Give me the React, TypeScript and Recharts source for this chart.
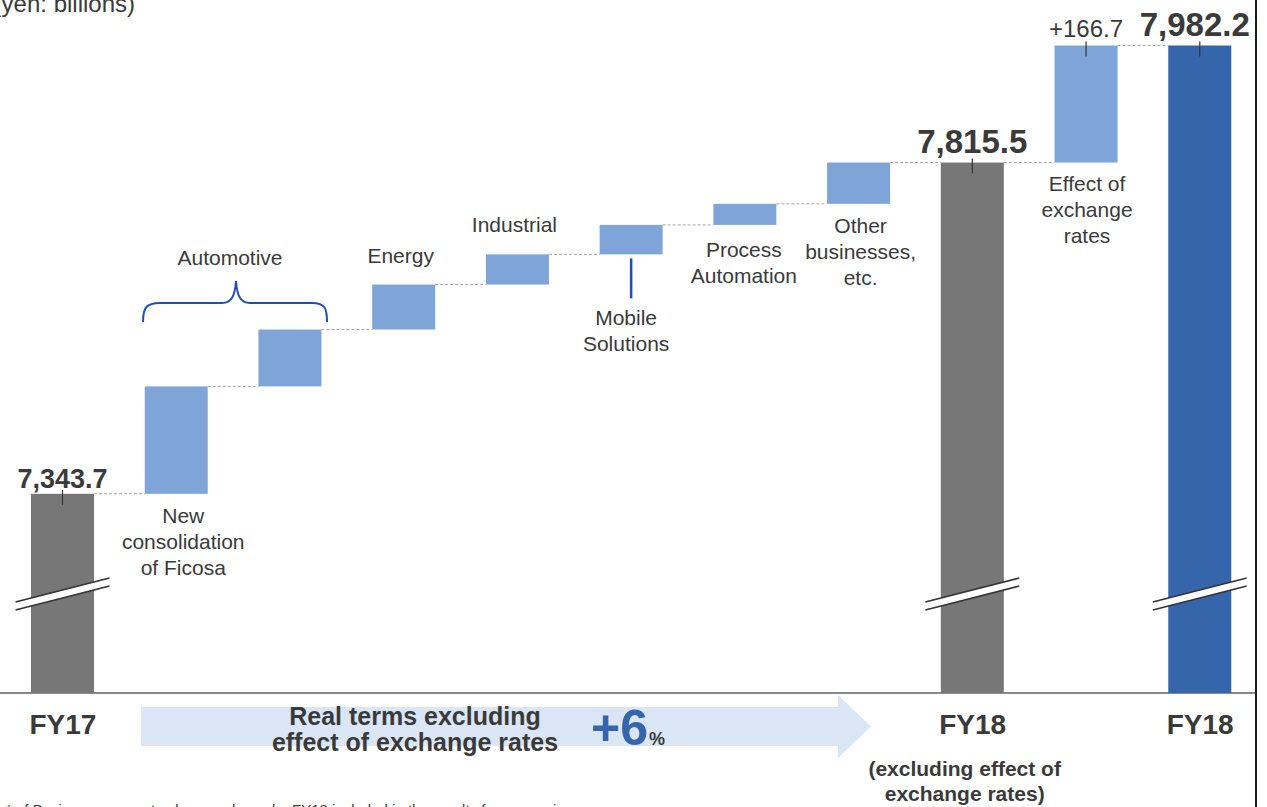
import React from "react";
import { BarChart, Bar, XAxis, YAxis, Customized } from "recharts";

// yen billions
const categories = [
  "FY17",
  "New consolidation of Ficosa",
  "Automotive",
  "Energy",
  "Industrial",
  "Mobile Solutions",
  "Process Automation",
  "Other businesses, etc.",
  "FY18 (excluding effect of exchange rates)",
  "Effect of exchange rates",
  "FY18",
];
const kinds = ["total", "step", "step", "step", "step", "step", "step", "step", "total", "step", "final"];
const fy17Sales = 7343.7;
const segmentSteps = [153.0, 81.0, 64.0, 43.0, 42.0, 30.0, 58.8];
const fy18SalesExFx = 7815.5;
const fxEffect = 166.7;
const fy18Sales = 7982.2;

const tickLabels = ["FY17", "", "", "", "", "", "", "", "FY18", "", "FY18"];
const tickSubLabels = [[], [], [], [], [], [], [], [], ["(excluding effect of", "exchange rates)"], [], []];
const nameLines = [
  [],
  ["New", "consolidation", "of Ficosa"],
  [],
  ["Energy"],
  ["Industrial"],
  ["Mobile", "Solutions"],
  ["Process", "Automation"],
  ["Other", "businesses,", "etc."],
  [],
  ["Effect of", "exchange", "rates"],
  [],
];
const growthLabel = ["Real terms excluding", "effect of exchange rates"];
const growthPct = "+6";

// build floating [low, high] rows for the waterfall
const AXIS_MIN = 7060;
const AXIS_MAX = 8000;
const BREAK_AT = 7201;

const stepValues = [fy17Sales, ...segmentSteps, fy18SalesExFx, fxEffect, fy18Sales];
const rows = (() => {
  let run = 0;
  return categories.map((name, i) => {
    const v = stepValues[i];
    if (kinds[i] === "step") {
      const low = run;
      run += v;
      return { name, kind: kinds[i], value: v, low, high: run };
    }
    run = v;
    return { name, kind: kinds[i], value: v, low: AXIS_MIN, high: v };
  });
})();

const W = 1267;
const H = 807;
const MARGIN = { top: 33, right: 10, bottom: 0, left: 6 };
const AXIS_H = 114;
const BASE_Y = H - MARGIN.bottom - AXIS_H;
const PLOT_R = W - MARGIN.right;
const BAND = (W - MARGIN.left - MARGIN.right) / categories.length;
const BAR_W = 63;

const FONT = "'Liberation Sans', Arial, Helvetica, sans-serif";
const TEXT = "#3a3a3a";
const COLORS = { total: "#777777", step: "#7FA5D8", final: "#3566AC" };

// placement of the category names next to each bar
const namePlacement: Record<number, { side: "above" | "below"; gap: number; dx: number; pointer?: boolean }> = {
  1: { side: "below", gap: 29, dx: 7 },
  3: { side: "above", gap: 22, dx: -3 },
  4: { side: "above", gap: 22, dx: -3 },
  5: { side: "below", gap: 71, dx: -5, pointer: true },
  6: { side: "below", gap: 32, dx: -1 },
  7: { side: "below", gap: 29, dx: 2 },
  9: { side: "below", gap: 28, dx: 1 },
};
const valueLabelStyle: Record<number, { size: number; weight: number; gap: number; dx: number; signed?: boolean }> = {
  0: { size: 27, weight: 700, gap: 6, dx: 0 },
  8: { size: 33, weight: 700, gap: 10, dx: 0 },
  9: { size: 24, weight: 400, gap: 8, dx: 0, signed: true },
  10: { size: 33, weight: 700, gap: 9, dx: -5 },
};

const fmt = (v: number) =>
  v.toLocaleString("en-US", { minimumFractionDigits: 1, maximumFractionDigits: 1 });

const WaterfallBar = (props: any) => {
  const { x, y, width, height, index } = props;
  const row = rows[index];
  const cx = x + width / 2;
  const bottom = y + height;
  const isTotal = row.kind !== "step";
  const vs = valueLabelStyle[index];
  const np = namePlacement[index];
  const lines = nameLines[index];
  const next = rows[index + 1];

  let breakY = 0;
  if (isTotal) breakY = y + (height * (row.high - BREAK_AT)) / (row.high - row.low);

  return (
    <g>
      {next && (
        <line
          x1={x + width}
          x2={x + width + (BAND - width)}
          y1={y}
          y2={y}
          stroke="#a6a6a6"
          strokeWidth={1}
          strokeDasharray="3 2"
        />
      )}
      <rect x={x} y={y} width={width} height={height} fill={COLORS[row.kind as keyof typeof COLORS]} />
      {isTotal && (
        <g>
          <polygon
            points={`${cx - 47},${breakY + 8} ${cx + 47},${breakY - 16} ${cx + 47},${breakY - 8} ${cx - 47},${breakY + 16}`}
            fill="#ffffff"
          />
          <line x1={cx - 47} y1={breakY + 8} x2={cx + 47} y2={breakY - 16} stroke="#333" strokeWidth={1.6} />
          <line x1={cx - 47} y1={breakY + 16} x2={cx + 47} y2={breakY - 8} stroke="#333" strokeWidth={1.6} />
        </g>
      )}
      {vs && (
        <g>
          <line x1={cx} x2={cx} y1={y - 4} y2={y + 11} stroke="#333" strokeWidth={1.2} />
          <text
            x={cx + vs.dx}
            y={y - vs.gap}
            textAnchor="middle"
            fontSize={vs.size}
            fontWeight={vs.weight}
            fill={TEXT}
            fontFamily={FONT}
          >
            {(vs.signed ? "+" : "") + fmt(row.value)}
          </text>
        </g>
      )}
      {np && np.pointer && (
        <line x1={cx} x2={cx} y1={bottom + 4} y2={bottom + 44} stroke="#1f4fb5" strokeWidth={2.5} />
      )}
      {np &&
        lines.map((t, i) => {
          const ty =
            np.side === "below"
              ? bottom + np.gap + i * 26
              : y - np.gap - (lines.length - 1 - i) * 26;
          return (
            <text
              key={i}
              x={cx + np.dx}
              y={ty}
              textAnchor="middle"
              fontSize={21}
              fill={TEXT}
              fontFamily={FONT}
            >
              {t}
            </text>
          );
        })}
    </g>
  );
};

const CategoryTick = (props: any) => {
  const { x, y, index } = props;
  const label = tickLabels[index];
  if (!label) return null;
  const subs = tickSubLabels[index];
  return (
    <g>
      <text x={x} y={y + 41} textAnchor="middle" fontSize={28} fontWeight={700} fill={TEXT} fontFamily={FONT}>
        {label}
      </text>
      {subs.map((s, i) => (
        <text
          key={i}
          x={x - 8}
          y={y + 83 + i * 25}
          textAnchor="middle"
          fontSize={21}
          fontWeight={700}
          fill={TEXT}
          fontFamily={FONT}
        >
          {s}
        </text>
      ))}
    </g>
  );
};

// brace, growth arrow, unit note and frame
const Annotations = () => (
  <g fontFamily={FONT}>
    <line x1={0} x2={PLOT_R} y1={BASE_Y} y2={BASE_Y} stroke="#8a8a8a" strokeWidth={2} />
    <line x1={1256} x2={1256} y1={0} y2={H} stroke="#1a1a1a" strokeWidth={2} />
    <text x={135} y={12} textAnchor="end" fontSize={24} fill={TEXT}>
      (yen: billions)
    </text>
    <path
      d="M143,322 C143,308 146,303 160,303 L222,303 C232,303 235,295 236,281 C237,295 240,303 250,303 L312,303 C325,303 327,308 327,322"
      fill="none"
      stroke="#1f4fb5"
      strokeWidth={2}
    />
    <text x={230} y={265} textAnchor="middle" fontSize={21} fill={TEXT}>
      Automotive
    </text>
    <polygon points="141,707 838,707 838,695 871,726.5 838,758 838,746 141,746" fill="#DAE6F6" />
    <text x={415} y={725} textAnchor="middle" fontSize={25} fontWeight={700} fill={TEXT}>
      {growthLabel[0]}
    </text>
    <text x={415} y={751} textAnchor="middle" fontSize={25} fontWeight={700} fill={TEXT}>
      {growthLabel[1]}
    </text>
    <text x={591} y={745} fontSize={50} fontWeight={700} fill="#3566AC">
      {growthPct}
    </text>
    <text x={649} y={745} fontSize={18} fontWeight={700} fill={TEXT}>
      %
    </text>
    <text x={6} y={815} fontSize={15} fill={TEXT}>
      * of Business segment sales are shown by FY18 included in the results for comparison
    </text>
  </g>
);

export default function App() {
  return (
    <div style={{ position: "absolute", left: 0, top: 0, width: W, height: H, background: "#fff", overflow: "hidden" }}>
      <BarChart width={W} height={H} data={rows} margin={MARGIN} barSize={BAR_W} barGap={0}>
        <XAxis
          dataKey="name"
          height={AXIS_H}
          axisLine={false}
          tickLine={false}
          tickSize={0}
          tickMargin={0}
          interval={0}
          tick={<CategoryTick />}
        />
        <YAxis hide type="number" domain={[AXIS_MIN, AXIS_MAX]} />
        <Customized component={<Annotations />} />
        <Bar
          dataKey={(d: any) => [d.low, d.high]}
          isAnimationActive={false}
          shape={<WaterfallBar />}
        />
      </BarChart>
    </div>
  );
}
